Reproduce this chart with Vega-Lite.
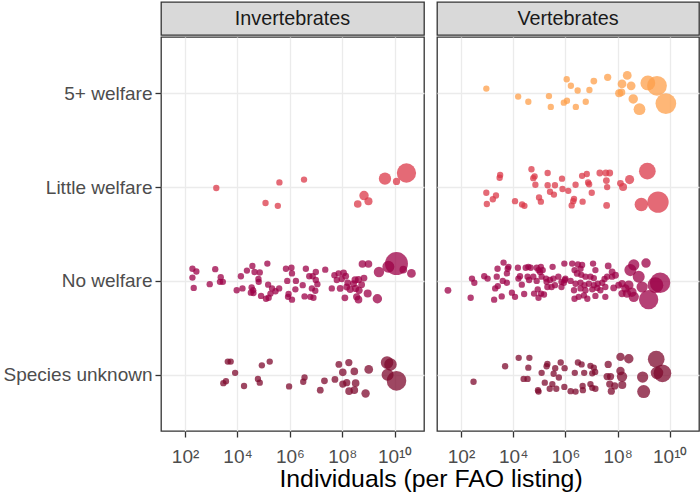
{
  "$schema": "https://vega.github.io/schema/vega-lite/v6.json",
  "padding": {"left": 2, "top": 1, "right": 2, "bottom": 0},
  "background": "white",
  "title": {"text": "Individuals (per FAO listing)", "orient": "bottom", "anchor": "middle", "fontSize": 24.8, "fontWeight": "normal", "color": "#000000", "font": "Liberation Sans", "dx": 80, "offset": 0},
  "data": {"values": [
    {"taxon":"Invertebrates","welfare":"Little welfare","log10n":3.19,"j":-0.01,"w":1},
    {"taxon":"Invertebrates","welfare":"Little welfare","log10n":5.60,"j":0.05,"w":1},
    {"taxon":"Invertebrates","welfare":"Little welfare","log10n":6.54,"j":0.08,"w":1},
    {"taxon":"Invertebrates","welfare":"Little welfare","log10n":5.07,"j":-0.17,"w":1},
    {"taxon":"Invertebrates","welfare":"Little welfare","log10n":5.54,"j":-0.20,"w":1},
    {"taxon":"Invertebrates","welfare":"Little welfare","log10n":9.63,"j":0.09,"w":19},
    {"taxon":"Invertebrates","welfare":"Little welfare","log10n":10.07,"j":0.06,"w":3},
    {"taxon":"Invertebrates","welfare":"Little welfare","log10n":10.45,"j":0.15,"w":55},
    {"taxon":"Invertebrates","welfare":"Little welfare","log10n":8.83,"j":-0.09,"w":9},
    {"taxon":"Invertebrates","welfare":"Little welfare","log10n":8.59,"j":-0.18,"w":4},
    {"taxon":"Invertebrates","welfare":"Little welfare","log10n":9.00,"j":-0.15,"w":5},

    {"taxon":"Invertebrates","welfare":"No welfare","log10n":2.28,"j":0.13,"w":1},
    {"taxon":"Invertebrates","welfare":"No welfare","log10n":2.43,"j":0.10,"w":1},
    {"taxon":"Invertebrates","welfare":"No welfare","log10n":2.28,"j":0.035,"w":1},
    {"taxon":"Invertebrates","welfare":"No welfare","log10n":2.33,"j":-0.075,"w":1},
    {"taxon":"Invertebrates","welfare":"No welfare","log10n":2.94,"j":-0.035,"w":1},
    {"taxon":"Invertebrates","welfare":"No welfare","log10n":3.15,"j":0.125,"w":1},
    {"taxon":"Invertebrates","welfare":"No welfare","log10n":3.36,"j":0.04,"w":1},
    {"taxon":"Invertebrates","welfare":"No welfare","log10n":3.33,"j":-0.01,"w":1},
    {"taxon":"Invertebrates","welfare":"No welfare","log10n":3.44,"j":-0.01,"w":1},
    {"taxon":"Invertebrates","welfare":"No welfare","log10n":3.97,"j":-0.10,"w":1},
    {"taxon":"Invertebrates","welfare":"No welfare","log10n":4.19,"j":-0.08,"w":1},
    {"taxon":"Invertebrates","welfare":"No welfare","log10n":4.13,"j":0.05,"w":1},
    {"taxon":"Invertebrates","welfare":"No welfare","log10n":4.36,"j":0.11,"w":1},
    {"taxon":"Invertebrates","welfare":"No welfare","log10n":4.57,"j":0.16,"w":1},
    {"taxon":"Invertebrates","welfare":"No welfare","log10n":4.65,"j":0.095,"w":1},
    {"taxon":"Invertebrates","welfare":"No welfare","log10n":4.85,"j":0.09,"w":1},
    {"taxon":"Invertebrates","welfare":"No welfare","log10n":5.14,"j":0.185,"w":1},
    {"taxon":"Invertebrates","welfare":"No welfare","log10n":4.80,"j":0.02,"w":1},
    {"taxon":"Invertebrates","welfare":"No welfare","log10n":4.81,"j":-0.01,"w":1},
    {"taxon":"Invertebrates","welfare":"No welfare","log10n":4.54,"j":-0.07,"w":1},
    {"taxon":"Invertebrates","welfare":"No welfare","log10n":4.60,"j":-0.10,"w":1},
    {"taxon":"Invertebrates","welfare":"No welfare","log10n":4.51,"j":-0.125,"w":1},
    {"taxon":"Invertebrates","welfare":"No welfare","log10n":4.61,"j":-0.13,"w":1},
    {"taxon":"Invertebrates","welfare":"No welfare","log10n":4.90,"j":-0.16,"w":1},
    {"taxon":"Invertebrates","welfare":"No welfare","log10n":5.09,"j":-0.19,"w":1},
    {"taxon":"Invertebrates","welfare":"No welfare","log10n":5.19,"j":-0.18,"w":1},
    {"taxon":"Invertebrates","welfare":"No welfare","log10n":5.17,"j":-0.04,"w":1},
    {"taxon":"Invertebrates","welfare":"No welfare","log10n":5.32,"j":-0.08,"w":1},
    {"taxon":"Invertebrates","welfare":"No welfare","log10n":5.26,"j":-0.135,"w":1},
    {"taxon":"Invertebrates","welfare":"No welfare","log10n":5.45,"j":-0.11,"w":1},
    {"taxon":"Invertebrates","welfare":"No welfare","log10n":5.59,"j":-0.08,"w":1},
    {"taxon":"Invertebrates","welfare":"No welfare","log10n":5.85,"j":0.13,"w":1},
    {"taxon":"Invertebrates","welfare":"No welfare","log10n":6.06,"j":0.14,"w":1},
    {"taxon":"Invertebrates","welfare":"No welfare","log10n":5.90,"j":0.0,"w":1},
    {"taxon":"Invertebrates","welfare":"No welfare","log10n":5.93,"j":-0.17,"w":1},
    {"taxon":"Invertebrates","welfare":"No welfare","log10n":6.08,"j":-0.20,"w":1},
    {"taxon":"Invertebrates","welfare":"No welfare","log10n":6.08,"j":0.08,"w":1},
    {"taxon":"Invertebrates","welfare":"No welfare","log10n":5.95,"j":-0.14,"w":1},
    {"taxon":"Invertebrates","welfare":"No welfare","log10n":6.61,"j":0.13,"w":1},
    {"taxon":"Invertebrates","welfare":"No welfare","log10n":6.23,"j":0.0,"w":1},
    {"taxon":"Invertebrates","welfare":"No welfare","log10n":6.49,"j":-0.045,"w":1},
    {"taxon":"Invertebrates","welfare":"No welfare","log10n":6.74,"j":0.05,"w":1},
    {"taxon":"Invertebrates","welfare":"No welfare","log10n":6.87,"j":0.05,"w":1},
    {"taxon":"Invertebrates","welfare":"No welfare","log10n":6.99,"j":0.095,"w":1},
    {"taxon":"Invertebrates","welfare":"No welfare","log10n":6.99,"j":0.01,"w":1},
    {"taxon":"Invertebrates","welfare":"No welfare","log10n":7.05,"j":-0.035,"w":1},
    {"taxon":"Invertebrates","welfare":"No welfare","log10n":6.84,"j":-0.08,"w":1},
    {"taxon":"Invertebrates","welfare":"No welfare","log10n":6.97,"j":-0.105,"w":1},
    {"taxon":"Invertebrates","welfare":"No welfare","log10n":6.21,"j":-0.09,"w":1},
    {"taxon":"Invertebrates","welfare":"No welfare","log10n":6.56,"j":-0.165,"w":1},
    {"taxon":"Invertebrates","welfare":"No welfare","log10n":6.78,"j":-0.17,"w":1},
    {"taxon":"Invertebrates","welfare":"No welfare","log10n":6.90,"j":-0.18,"w":1},
    {"taxon":"Invertebrates","welfare":"No welfare","log10n":7.35,"j":0.12,"w":1},
    {"taxon":"Invertebrates","welfare":"No welfare","log10n":7.70,"j":0.06,"w":1},
    {"taxon":"Invertebrates","welfare":"No welfare","log10n":7.86,"j":0.08,"w":1},
    {"taxon":"Invertebrates","welfare":"No welfare","log10n":8.05,"j":0.085,"w":2},
    {"taxon":"Invertebrates","welfare":"No welfare","log10n":8.13,"j":0.05,"w":2},
    {"taxon":"Invertebrates","welfare":"No welfare","log10n":7.79,"j":0.01,"w":1},
    {"taxon":"Invertebrates","welfare":"No welfare","log10n":7.98,"j":0.02,"w":1},
    {"taxon":"Invertebrates","welfare":"No welfare","log10n":8.21,"j":-0.02,"w":2},
    {"taxon":"Invertebrates","welfare":"No welfare","log10n":8.49,"j":0.01,"w":3},
    {"taxon":"Invertebrates","welfare":"No welfare","log10n":8.62,"j":0.015,"w":3},
    {"taxon":"Invertebrates","welfare":"No welfare","log10n":8.83,"j":0.03,"w":2},
    {"taxon":"Invertebrates","welfare":"No welfare","log10n":7.60,"j":-0.08,"w":1},
    {"taxon":"Invertebrates","welfare":"No welfare","log10n":7.92,"j":-0.08,"w":2},
    {"taxon":"Invertebrates","welfare":"No welfare","log10n":8.17,"j":-0.065,"w":2},
    {"taxon":"Invertebrates","welfare":"No welfare","log10n":8.30,"j":-0.09,"w":3},
    {"taxon":"Invertebrates","welfare":"No welfare","log10n":8.51,"j":-0.08,"w":3},
    {"taxon":"Invertebrates","welfare":"No welfare","log10n":8.64,"j":-0.10,"w":3},
    {"taxon":"Invertebrates","welfare":"No welfare","log10n":8.43,"j":-0.03,"w":2},
    {"taxon":"Invertebrates","welfare":"No welfare","log10n":8.74,"j":-0.04,"w":2},
    {"taxon":"Invertebrates","welfare":"No welfare","log10n":8.10,"j":-0.18,"w":2},
    {"taxon":"Invertebrates","welfare":"No welfare","log10n":8.55,"j":-0.17,"w":3},
    {"taxon":"Invertebrates","welfare":"No welfare","log10n":8.62,"j":-0.20,"w":4},
    {"taxon":"Invertebrates","welfare":"No welfare","log10n":8.97,"j":-0.135,"w":5},
    {"taxon":"Invertebrates","welfare":"No welfare","log10n":9.34,"j":-0.19,"w":9},
    {"taxon":"Invertebrates","welfare":"No welfare","log10n":8.77,"j":0.18,"w":4},
    {"taxon":"Invertebrates","welfare":"No welfare","log10n":9.00,"j":0.18,"w":4},
    {"taxon":"Invertebrates","welfare":"No welfare","log10n":9.40,"j":0.095,"w":12},
    {"taxon":"Invertebrates","welfare":"No welfare","log10n":9.76,"j":0.15,"w":18},
    {"taxon":"Invertebrates","welfare":"No welfare","log10n":10.07,"j":0.185,"w":80},
    {"taxon":"Invertebrates","welfare":"No welfare","log10n":10.33,"j":0.12,"w":4},
    {"taxon":"Invertebrates","welfare":"No welfare","log10n":10.64,"j":0.08,"w":7},

    {"taxon":"Invertebrates","welfare":"Species unknown","log10n":3.63,"j":0.14,"w":1},
    {"taxon":"Invertebrates","welfare":"Species unknown","log10n":3.74,"j":0.14,"w":1},
    {"taxon":"Invertebrates","welfare":"Species unknown","log10n":3.91,"j":0.02,"w":1},
    {"taxon":"Invertebrates","welfare":"Species unknown","log10n":3.46,"j":-0.09,"w":1},
    {"taxon":"Invertebrates","welfare":"Species unknown","log10n":3.56,"j":-0.07,"w":1},
    {"taxon":"Invertebrates","welfare":"Species unknown","log10n":4.25,"j":-0.12,"w":1},
    {"taxon":"Invertebrates","welfare":"Species unknown","log10n":4.93,"j":0.10,"w":1},
    {"taxon":"Invertebrates","welfare":"Species unknown","log10n":5.23,"j":0.14,"w":1},
    {"taxon":"Invertebrates","welfare":"Species unknown","log10n":4.78,"j":-0.045,"w":1},
    {"taxon":"Invertebrates","welfare":"Species unknown","log10n":4.85,"j":-0.085,"w":1},
    {"taxon":"Invertebrates","welfare":"Species unknown","log10n":5.97,"j":-0.125,"w":1},
    {"taxon":"Invertebrates","welfare":"Species unknown","log10n":6.56,"j":-0.03,"w":1},
    {"taxon":"Invertebrates","welfare":"Species unknown","log10n":6.51,"j":-0.075,"w":1},
    {"taxon":"Invertebrates","welfare":"Species unknown","log10n":7.16,"j":-0.165,"w":2},
    {"taxon":"Invertebrates","welfare":"Species unknown","log10n":7.32,"j":-0.065,"w":2},
    {"taxon":"Invertebrates","welfare":"Species unknown","log10n":7.72,"j":-0.05,"w":2},
    {"taxon":"Invertebrates","welfare":"Species unknown","log10n":7.87,"j":0.11,"w":2},
    {"taxon":"Invertebrates","welfare":"Species unknown","log10n":8.25,"j":0.13,"w":3},
    {"taxon":"Invertebrates","welfare":"Species unknown","log10n":8.02,"j":0.025,"w":4},
    {"taxon":"Invertebrates","welfare":"Species unknown","log10n":8.46,"j":0.035,"w":4},
    {"taxon":"Invertebrates","welfare":"Species unknown","log10n":8.02,"j":-0.10,"w":3},
    {"taxon":"Invertebrates","welfare":"Species unknown","log10n":8.17,"j":-0.085,"w":3},
    {"taxon":"Invertebrates","welfare":"Species unknown","log10n":8.51,"j":-0.09,"w":4},
    {"taxon":"Invertebrates","welfare":"Species unknown","log10n":8.26,"j":-0.175,"w":4},
    {"taxon":"Invertebrates","welfare":"Species unknown","log10n":8.46,"j":-0.165,"w":4},
    {"taxon":"Invertebrates","welfare":"Species unknown","log10n":8.89,"j":-0.20,"w":6},
    {"taxon":"Invertebrates","welfare":"Species unknown","log10n":9.01,"j":0.056,"w":7},
    {"taxon":"Invertebrates","welfare":"Species unknown","log10n":9.71,"j":0.13,"w":20},
    {"taxon":"Invertebrates","welfare":"Species unknown","log10n":9.84,"j":0.11,"w":20},
    {"taxon":"Invertebrates","welfare":"Species unknown","log10n":9.73,"j":0.0,"w":18},
    {"taxon":"Invertebrates","welfare":"Species unknown","log10n":10.07,"j":-0.065,"w":57},

    {"taxon":"Vertebrates","welfare":"5+ welfare","log10n":2.97,"j":0.05,"w":1},
    {"taxon":"Vertebrates","welfare":"5+ welfare","log10n":4.19,"j":-0.035,"w":1},
    {"taxon":"Vertebrates","welfare":"5+ welfare","log10n":4.58,"j":-0.09,"w":1},
    {"taxon":"Vertebrates","welfare":"5+ welfare","log10n":5.37,"j":-0.03,"w":1},
    {"taxon":"Vertebrates","welfare":"5+ welfare","log10n":5.44,"j":-0.145,"w":1},
    {"taxon":"Vertebrates","welfare":"5+ welfare","log10n":6.05,"j":0.15,"w":1},
    {"taxon":"Vertebrates","welfare":"5+ welfare","log10n":6.21,"j":0.08,"w":1},
    {"taxon":"Vertebrates","welfare":"5+ welfare","log10n":6.47,"j":0.03,"w":1},
    {"taxon":"Vertebrates","welfare":"5+ welfare","log10n":6.06,"j":-0.08,"w":1},
    {"taxon":"Vertebrates","welfare":"5+ welfare","log10n":5.94,"j":-0.10,"w":1},
    {"taxon":"Vertebrates","welfare":"5+ welfare","log10n":6.40,"j":-0.145,"w":1},
    {"taxon":"Vertebrates","welfare":"5+ welfare","log10n":6.92,"j":0.035,"w":1},
    {"taxon":"Vertebrates","welfare":"5+ welfare","log10n":7.09,"j":0.13,"w":2},
    {"taxon":"Vertebrates","welfare":"5+ welfare","log10n":6.78,"j":-0.09,"w":1},
    {"taxon":"Vertebrates","welfare":"5+ welfare","log10n":7.62,"j":0.17,"w":3},
    {"taxon":"Vertebrates","welfare":"5+ welfare","log10n":8.37,"j":0.19,"w":7},
    {"taxon":"Vertebrates","welfare":"5+ welfare","log10n":8.17,"j":0.10,"w":7},
    {"taxon":"Vertebrates","welfare":"5+ welfare","log10n":8.52,"j":0.08,"w":7},
    {"taxon":"Vertebrates","welfare":"5+ welfare","log10n":8.06,"j":0.0,"w":5},
    {"taxon":"Vertebrates","welfare":"5+ welfare","log10n":8.15,"j":0.01,"w":4},
    {"taxon":"Vertebrates","welfare":"5+ welfare","log10n":8.60,"j":-0.06,"w":9},
    {"taxon":"Vertebrates","welfare":"5+ welfare","log10n":8.84,"j":-0.17,"w":17},
    {"taxon":"Vertebrates","welfare":"5+ welfare","log10n":9.16,"j":0.11,"w":30},
    {"taxon":"Vertebrates","welfare":"5+ welfare","log10n":9.51,"j":0.08,"w":58},
    {"taxon":"Vertebrates","welfare":"5+ welfare","log10n":9.85,"j":-0.11,"w":64},

    {"taxon":"Vertebrates","welfare":"Little welfare","log10n":3.50,"j":0.13,"w":1},
    {"taxon":"Vertebrates","welfare":"Little welfare","log10n":3.48,"j":0.10,"w":1},
    {"taxon":"Vertebrates","welfare":"Little welfare","log10n":2.97,"j":-0.06,"w":1},
    {"taxon":"Vertebrates","welfare":"Little welfare","log10n":3.34,"j":-0.09,"w":1},
    {"taxon":"Vertebrates","welfare":"Little welfare","log10n":3.22,"j":-0.13,"w":1},
    {"taxon":"Vertebrates","welfare":"Little welfare","log10n":2.99,"j":-0.18,"w":1},
    {"taxon":"Vertebrates","welfare":"Little welfare","log10n":4.07,"j":-0.15,"w":1},
    {"taxon":"Vertebrates","welfare":"Little welfare","log10n":4.34,"j":-0.185,"w":1},
    {"taxon":"Vertebrates","welfare":"Little welfare","log10n":4.43,"j":-0.20,"w":1},
    {"taxon":"Vertebrates","welfare":"Little welfare","log10n":4.70,"j":0.19,"w":1},
    {"taxon":"Vertebrates","welfare":"Little welfare","log10n":4.77,"j":0.095,"w":1},
    {"taxon":"Vertebrates","welfare":"Little welfare","log10n":4.82,"j":0.115,"w":1},
    {"taxon":"Vertebrates","welfare":"Little welfare","log10n":4.85,"j":0.025,"w":1},
    {"taxon":"Vertebrates","welfare":"Little welfare","log10n":5.32,"j":0.15,"w":1},
    {"taxon":"Vertebrates","welfare":"Little welfare","log10n":5.32,"j":0.02,"w":1},
    {"taxon":"Vertebrates","welfare":"Little welfare","log10n":5.60,"j":0.02,"w":1},
    {"taxon":"Vertebrates","welfare":"Little welfare","log10n":5.87,"j":0.09,"w":1},
    {"taxon":"Vertebrates","welfare":"Little welfare","log10n":5.89,"j":-0.02,"w":1},
    {"taxon":"Vertebrates","welfare":"Little welfare","log10n":6.11,"j":-0.04,"w":1},
    {"taxon":"Vertebrates","welfare":"Little welfare","log10n":5.41,"j":-0.05,"w":1},
    {"taxon":"Vertebrates","welfare":"Little welfare","log10n":5.56,"j":-0.08,"w":1},
    {"taxon":"Vertebrates","welfare":"Little welfare","log10n":4.99,"j":-0.11,"w":1},
    {"taxon":"Vertebrates","welfare":"Little welfare","log10n":5.06,"j":-0.155,"w":1},
    {"taxon":"Vertebrates","welfare":"Little welfare","log10n":6.39,"j":0.025,"w":1},
    {"taxon":"Vertebrates","welfare":"Little welfare","log10n":6.64,"j":0.12,"w":1},
    {"taxon":"Vertebrates","welfare":"Little welfare","log10n":6.82,"j":0.14,"w":1},
    {"taxon":"Vertebrates","welfare":"Little welfare","log10n":6.87,"j":0.05,"w":1},
    {"taxon":"Vertebrates","welfare":"Little welfare","log10n":6.91,"j":0.03,"w":1},
    {"taxon":"Vertebrates","welfare":"Little welfare","log10n":7.01,"j":-0.06,"w":1},
    {"taxon":"Vertebrates","welfare":"Little welfare","log10n":6.33,"j":-0.125,"w":1},
    {"taxon":"Vertebrates","welfare":"Little welfare","log10n":6.30,"j":-0.15,"w":1},
    {"taxon":"Vertebrates","welfare":"Little welfare","log10n":6.24,"j":-0.195,"w":1},
    {"taxon":"Vertebrates","welfare":"Little welfare","log10n":6.66,"j":-0.155,"w":1},
    {"taxon":"Vertebrates","welfare":"Little welfare","log10n":7.32,"j":0.15,"w":2},
    {"taxon":"Vertebrates","welfare":"Little welfare","log10n":7.55,"j":0.15,"w":2},
    {"taxon":"Vertebrates","welfare":"Little welfare","log10n":7.70,"j":0.15,"w":2},
    {"taxon":"Vertebrates","welfare":"Little welfare","log10n":7.57,"j":0.07,"w":2},
    {"taxon":"Vertebrates","welfare":"Little welfare","log10n":7.60,"j":0.0,"w":1},
    {"taxon":"Vertebrates","welfare":"Little welfare","log10n":7.58,"j":-0.195,"w":2},
    {"taxon":"Vertebrates","welfare":"Little welfare","log10n":8.11,"j":0.04,"w":2},
    {"taxon":"Vertebrates","welfare":"Little welfare","log10n":8.21,"j":0.0,"w":5},
    {"taxon":"Vertebrates","welfare":"Little welfare","log10n":8.46,"j":0.08,"w":8},
    {"taxon":"Vertebrates","welfare":"Little welfare","log10n":9.14,"j":0.17,"w":40},
    {"taxon":"Vertebrates","welfare":"Little welfare","log10n":8.91,"j":-0.185,"w":24},
    {"taxon":"Vertebrates","welfare":"Little welfare","log10n":9.55,"j":-0.16,"w":68},

    {"taxon":"Vertebrates","welfare":"No welfare","log10n":1.50,"j":-0.10,"w":2},
    {"taxon":"Vertebrates","welfare":"No welfare","log10n":2.37,"j":-0.18,"w":1},
    {"taxon":"Vertebrates","welfare":"No welfare","log10n":2.42,"j":0.025,"w":1},
    {"taxon":"Vertebrates","welfare":"No welfare","log10n":2.51,"j":-0.02,"w":1},
    {"taxon":"Vertebrates","welfare":"No welfare","log10n":2.89,"j":0.05,"w":1},
    {"taxon":"Vertebrates","welfare":"No welfare","log10n":3.02,"j":0.025,"w":1},
    {"taxon":"Vertebrates","welfare":"No welfare","log10n":3.27,"j":-0.20,"w":1},
    {"taxon":"Vertebrates","welfare":"No welfare","log10n":3.31,"j":-0.08,"w":1},
    {"taxon":"Vertebrates","welfare":"No welfare","log10n":3.41,"j":-0.055,"w":1},
    {"taxon":"Vertebrates","welfare":"No welfare","log10n":3.56,"j":-0.165,"w":1},
    {"taxon":"Vertebrates","welfare":"No welfare","log10n":3.37,"j":0.045,"w":1},
    {"taxon":"Vertebrates","welfare":"No welfare","log10n":3.40,"j":0.13,"w":1},
    {"taxon":"Vertebrates","welfare":"No welfare","log10n":3.63,"j":0.195,"w":1},
    {"taxon":"Vertebrates","welfare":"No welfare","log10n":3.76,"j":0.08,"w":1},
    {"taxon":"Vertebrates","welfare":"No welfare","log10n":3.79,"j":0.13,"w":1},
    {"taxon":"Vertebrates","welfare":"No welfare","log10n":3.82,"j":0.15,"w":1},
    {"taxon":"Vertebrates","welfare":"No welfare","log10n":3.60,"j":0.0,"w":1},
    {"taxon":"Vertebrates","welfare":"No welfare","log10n":3.76,"j":-0.02,"w":1},
    {"taxon":"Vertebrates","welfare":"No welfare","log10n":3.95,"j":-0.125,"w":1},
    {"taxon":"Vertebrates","welfare":"No welfare","log10n":4.07,"j":-0.17,"w":1},
    {"taxon":"Vertebrates","welfare":"No welfare","log10n":4.18,"j":0.14,"w":1},
    {"taxon":"Vertebrates","welfare":"No welfare","log10n":4.20,"j":0.025,"w":1},
    {"taxon":"Vertebrates","welfare":"No welfare","log10n":4.26,"j":0.05,"w":1},
    {"taxon":"Vertebrates","welfare":"No welfare","log10n":4.33,"j":-0.04,"w":1},
    {"taxon":"Vertebrates","welfare":"No welfare","log10n":4.42,"j":-0.14,"w":1},
    {"taxon":"Vertebrates","welfare":"No welfare","log10n":4.48,"j":0.14,"w":1},
    {"taxon":"Vertebrates","welfare":"No welfare","log10n":4.58,"j":0.15,"w":1},
    {"taxon":"Vertebrates","welfare":"No welfare","log10n":4.55,"j":0.045,"w":1},
    {"taxon":"Vertebrates","welfare":"No welfare","log10n":4.61,"j":0.01,"w":1},
    {"taxon":"Vertebrates","welfare":"No welfare","log10n":4.77,"j":0.045,"w":1},
    {"taxon":"Vertebrates","welfare":"No welfare","log10n":4.67,"j":0.14,"w":1},
    {"taxon":"Vertebrates","welfare":"No welfare","log10n":4.90,"j":0.14,"w":1},
    {"taxon":"Vertebrates","welfare":"No welfare","log10n":4.97,"j":0.115,"w":1},
    {"taxon":"Vertebrates","welfare":"No welfare","log10n":5.06,"j":0.15,"w":1},
    {"taxon":"Vertebrates","welfare":"No welfare","log10n":5.13,"j":0.115,"w":1},
    {"taxon":"Vertebrates","welfare":"No welfare","log10n":5.03,"j":0.095,"w":1},
    {"taxon":"Vertebrates","welfare":"No welfare","log10n":4.90,"j":0.0,"w":1},
    {"taxon":"Vertebrates","welfare":"No welfare","log10n":5.09,"j":0.045,"w":1},
    {"taxon":"Vertebrates","welfare":"No welfare","log10n":5.26,"j":0.025,"w":1},
    {"taxon":"Vertebrates","welfare":"No welfare","log10n":5.28,"j":-0.01,"w":1},
    {"taxon":"Vertebrates","welfare":"No welfare","log10n":5.41,"j":0.01,"w":1},
    {"taxon":"Vertebrates","welfare":"No welfare","log10n":5.54,"j":0.025,"w":1},
    {"taxon":"Vertebrates","welfare":"No welfare","log10n":5.51,"j":0.15,"w":1},
    {"taxon":"Vertebrates","welfare":"No welfare","log10n":4.94,"j":-0.09,"w":1},
    {"taxon":"Vertebrates","welfare":"No welfare","log10n":4.80,"j":-0.135,"w":1},
    {"taxon":"Vertebrates","welfare":"No welfare","log10n":5.07,"j":-0.135,"w":1},
    {"taxon":"Vertebrates","welfare":"No welfare","log10n":5.18,"j":-0.145,"w":1},
    {"taxon":"Vertebrates","welfare":"No welfare","log10n":4.97,"j":-0.18,"w":1},
    {"taxon":"Vertebrates","welfare":"No welfare","log10n":5.31,"j":-0.065,"w":1},
    {"taxon":"Vertebrates","welfare":"No welfare","log10n":5.47,"j":-0.065,"w":1},
    {"taxon":"Vertebrates","welfare":"No welfare","log10n":5.60,"j":-0.045,"w":1},
    {"taxon":"Vertebrates","welfare":"No welfare","log10n":5.73,"j":0.045,"w":1},
    {"taxon":"Vertebrates","welfare":"No welfare","log10n":5.85,"j":-0.01,"w":1},
    {"taxon":"Vertebrates","welfare":"No welfare","log10n":5.96,"j":0.185,"w":1},
    {"taxon":"Vertebrates","welfare":"No welfare","log10n":5.85,"j":-0.065,"w":1},
    {"taxon":"Vertebrates","welfare":"No welfare","log10n":5.98,"j":0.01,"w":1},
    {"taxon":"Vertebrates","welfare":"No welfare","log10n":6.26,"j":0.185,"w":1},
    {"taxon":"Vertebrates","welfare":"No welfare","log10n":6.48,"j":0.175,"w":1},
    {"taxon":"Vertebrates","welfare":"No welfare","log10n":6.58,"j":0.13,"w":1},
    {"taxon":"Vertebrates","welfare":"No welfare","log10n":6.64,"j":0.17,"w":1},
    {"taxon":"Vertebrates","welfare":"No welfare","log10n":6.35,"j":0.115,"w":1},
    {"taxon":"Vertebrates","welfare":"No welfare","log10n":6.45,"j":0.08,"w":2},
    {"taxon":"Vertebrates","welfare":"No welfare","log10n":6.61,"j":0.065,"w":1},
    {"taxon":"Vertebrates","welfare":"No welfare","log10n":6.77,"j":0.045,"w":1},
    {"taxon":"Vertebrates","welfare":"No welfare","log10n":7.06,"j":0.185,"w":1},
    {"taxon":"Vertebrates","welfare":"No welfare","log10n":7.15,"j":0.115,"w":1},
    {"taxon":"Vertebrates","welfare":"No welfare","log10n":6.96,"j":0.045,"w":1},
    {"taxon":"Vertebrates","welfare":"No welfare","log10n":7.09,"j":0.03,"w":1},
    {"taxon":"Vertebrates","welfare":"No welfare","log10n":6.00,"j":0.025,"w":1},
    {"taxon":"Vertebrates","welfare":"No welfare","log10n":5.94,"j":-0.02,"w":1},
    {"taxon":"Vertebrates","welfare":"No welfare","log10n":6.20,"j":0.0,"w":1},
    {"taxon":"Vertebrates","welfare":"No welfare","log10n":6.39,"j":-0.03,"w":1},
    {"taxon":"Vertebrates","welfare":"No welfare","log10n":6.58,"j":-0.02,"w":1},
    {"taxon":"Vertebrates","welfare":"No welfare","log10n":6.73,"j":-0.045,"w":1},
    {"taxon":"Vertebrates","welfare":"No welfare","log10n":6.90,"j":-0.03,"w":1},
    {"taxon":"Vertebrates","welfare":"No welfare","log10n":7.09,"j":-0.045,"w":1},
    {"taxon":"Vertebrates","welfare":"No welfare","log10n":7.24,"j":-0.03,"w":1},
    {"taxon":"Vertebrates","welfare":"No welfare","log10n":7.41,"j":-0.02,"w":1},
    {"taxon":"Vertebrates","welfare":"No welfare","log10n":7.50,"j":0.02,"w":1},
    {"taxon":"Vertebrates","welfare":"No welfare","log10n":7.64,"j":0.16,"w":2},
    {"taxon":"Vertebrates","welfare":"No welfare","log10n":7.79,"j":0.095,"w":2},
    {"taxon":"Vertebrates","welfare":"No welfare","log10n":7.92,"j":0.06,"w":2},
    {"taxon":"Vertebrates","welfare":"No welfare","log10n":7.79,"j":0.045,"w":1},
    {"taxon":"Vertebrates","welfare":"No welfare","log10n":7.60,"j":0.045,"w":1},
    {"taxon":"Vertebrates","welfare":"No welfare","log10n":6.33,"j":-0.10,"w":1},
    {"taxon":"Vertebrates","welfare":"No welfare","log10n":6.58,"j":-0.08,"w":1},
    {"taxon":"Vertebrates","welfare":"No welfare","log10n":6.77,"j":-0.10,"w":1},
    {"taxon":"Vertebrates","welfare":"No welfare","log10n":7.03,"j":-0.09,"w":1},
    {"taxon":"Vertebrates","welfare":"No welfare","log10n":7.22,"j":-0.075,"w":1},
    {"taxon":"Vertebrates","welfare":"No welfare","log10n":7.34,"j":-0.10,"w":1},
    {"taxon":"Vertebrates","welfare":"No welfare","log10n":7.53,"j":-0.065,"w":1},
    {"taxon":"Vertebrates","welfare":"No welfare","log10n":6.35,"j":-0.19,"w":1},
    {"taxon":"Vertebrates","welfare":"No welfare","log10n":6.51,"j":-0.17,"w":1},
    {"taxon":"Vertebrates","welfare":"No welfare","log10n":6.71,"j":-0.155,"w":1},
    {"taxon":"Vertebrates","welfare":"No welfare","log10n":6.84,"j":-0.19,"w":1},
    {"taxon":"Vertebrates","welfare":"No welfare","log10n":7.15,"j":-0.16,"w":1},
    {"taxon":"Vertebrates","welfare":"No welfare","log10n":7.53,"j":-0.17,"w":1},
    {"taxon":"Vertebrates","welfare":"No welfare","log10n":7.85,"j":-0.075,"w":2},
    {"taxon":"Vertebrates","welfare":"No welfare","log10n":8.04,"j":-0.045,"w":2},
    {"taxon":"Vertebrates","welfare":"No welfare","log10n":8.17,"j":-0.03,"w":3},
    {"taxon":"Vertebrates","welfare":"No welfare","log10n":8.30,"j":-0.08,"w":6},
    {"taxon":"Vertebrates","welfare":"No welfare","log10n":8.43,"j":-0.045,"w":9},
    {"taxon":"Vertebrates","welfare":"No welfare","log10n":8.55,"j":-0.12,"w":9},
    {"taxon":"Vertebrates","welfare":"No welfare","log10n":8.36,"j":-0.135,"w":6},
    {"taxon":"Vertebrates","welfare":"No welfare","log10n":8.62,"j":-0.17,"w":12},
    {"taxon":"Vertebrates","welfare":"No welfare","log10n":8.17,"j":-0.135,"w":3},
    {"taxon":"Vertebrates","welfare":"No welfare","log10n":8.49,"j":0.115,"w":18},
    {"taxon":"Vertebrates","welfare":"No welfare","log10n":8.62,"j":0.17,"w":15},
    {"taxon":"Vertebrates","welfare":"No welfare","log10n":8.81,"j":0.045,"w":18},
    {"taxon":"Vertebrates","welfare":"No welfare","log10n":9.09,"j":0.19,"w":9},
    {"taxon":"Vertebrates","welfare":"No welfare","log10n":8.94,"j":-0.065,"w":15},
    {"taxon":"Vertebrates","welfare":"No welfare","log10n":9.19,"j":-0.20,"w":55},
    {"taxon":"Vertebrates","welfare":"No welfare","log10n":9.45,"j":-0.045,"w":35},
    {"taxon":"Vertebrates","welfare":"No welfare","log10n":9.63,"j":-0.02,"w":62},

    {"taxon":"Vertebrates","welfare":"Species unknown","log10n":2.48,"j":-0.075,"w":1},
    {"taxon":"Vertebrates","welfare":"Species unknown","log10n":3.69,"j":0.09,"w":1},
    {"taxon":"Vertebrates","welfare":"Species unknown","log10n":4.21,"j":0.18,"w":1},
    {"taxon":"Vertebrates","welfare":"Species unknown","log10n":4.62,"j":0.18,"w":1},
    {"taxon":"Vertebrates","welfare":"Species unknown","log10n":4.58,"j":0.075,"w":1},
    {"taxon":"Vertebrates","welfare":"Species unknown","log10n":4.40,"j":-0.045,"w":1},
    {"taxon":"Vertebrates","welfare":"Species unknown","log10n":4.55,"j":-0.045,"w":1},
    {"taxon":"Vertebrates","welfare":"Species unknown","log10n":4.95,"j":-0.165,"w":1},
    {"taxon":"Vertebrates","welfare":"Species unknown","log10n":4.97,"j":-0.18,"w":1},
    {"taxon":"Vertebrates","welfare":"Species unknown","log10n":5.21,"j":-0.085,"w":1},
    {"taxon":"Vertebrates","welfare":"Species unknown","log10n":5.09,"j":0.02,"w":1},
    {"taxon":"Vertebrates","welfare":"Species unknown","log10n":5.28,"j":0.09,"w":1},
    {"taxon":"Vertebrates","welfare":"Species unknown","log10n":5.31,"j":0.115,"w":1},
    {"taxon":"Vertebrates","welfare":"Species unknown","log10n":5.40,"j":-0.15,"w":1},
    {"taxon":"Vertebrates","welfare":"Species unknown","log10n":5.50,"j":-0.10,"w":1},
    {"taxon":"Vertebrates","welfare":"Species unknown","log10n":5.55,"j":0.01,"w":1},
    {"taxon":"Vertebrates","welfare":"Species unknown","log10n":5.65,"j":-0.15,"w":1},
    {"taxon":"Vertebrates","welfare":"Species unknown","log10n":5.61,"j":0.07,"w":1},
    {"taxon":"Vertebrates","welfare":"Species unknown","log10n":5.75,"j":-0.03,"w":1},
    {"taxon":"Vertebrates","welfare":"Species unknown","log10n":5.82,"j":0.13,"w":1},
    {"taxon":"Vertebrates","welfare":"Species unknown","log10n":5.97,"j":0.07,"w":1},
    {"taxon":"Vertebrates","welfare":"Species unknown","log10n":5.96,"j":-0.13,"w":1},
    {"taxon":"Vertebrates","welfare":"Species unknown","log10n":6.20,"j":-0.175,"w":1},
    {"taxon":"Vertebrates","welfare":"Species unknown","log10n":6.39,"j":-0.18,"w":1},
    {"taxon":"Vertebrates","welfare":"Species unknown","log10n":6.36,"j":0.02,"w":1},
    {"taxon":"Vertebrates","welfare":"Species unknown","log10n":6.48,"j":0.13,"w":1},
    {"taxon":"Vertebrates","welfare":"Species unknown","log10n":6.62,"j":0.11,"w":1},
    {"taxon":"Vertebrates","welfare":"Species unknown","log10n":6.72,"j":0.02,"w":1},
    {"taxon":"Vertebrates","welfare":"Species unknown","log10n":6.66,"j":-0.12,"w":1},
    {"taxon":"Vertebrates","welfare":"Species unknown","log10n":6.67,"j":-0.165,"w":1},
    {"taxon":"Vertebrates","welfare":"Species unknown","log10n":6.96,"j":0.095,"w":1},
    {"taxon":"Vertebrates","welfare":"Species unknown","log10n":7.09,"j":0.075,"w":1},
    {"taxon":"Vertebrates","welfare":"Species unknown","log10n":7.03,"j":0.015,"w":1},
    {"taxon":"Vertebrates","welfare":"Species unknown","log10n":7.14,"j":0.03,"w":1},
    {"taxon":"Vertebrates","welfare":"Species unknown","log10n":6.96,"j":-0.10,"w":1},
    {"taxon":"Vertebrates","welfare":"Species unknown","log10n":7.03,"j":-0.14,"w":1},
    {"taxon":"Vertebrates","welfare":"Species unknown","log10n":7.15,"j":-0.15,"w":1},
    {"taxon":"Vertebrates","welfare":"Species unknown","log10n":7.64,"j":0.11,"w":3},
    {"taxon":"Vertebrates","welfare":"Species unknown","log10n":7.60,"j":-0.02,"w":3},
    {"taxon":"Vertebrates","welfare":"Species unknown","log10n":7.73,"j":-0.02,"w":3},
    {"taxon":"Vertebrates","welfare":"Species unknown","log10n":7.70,"j":-0.10,"w":3},
    {"taxon":"Vertebrates","welfare":"Species unknown","log10n":7.76,"j":-0.175,"w":3},
    {"taxon":"Vertebrates","welfare":"Species unknown","log10n":7.89,"j":-0.12,"w":3},
    {"taxon":"Vertebrates","welfare":"Species unknown","log10n":8.11,"j":0.19,"w":6},
    {"taxon":"Vertebrates","welfare":"Species unknown","log10n":8.43,"j":0.17,"w":9},
    {"taxon":"Vertebrates","welfare":"Species unknown","log10n":8.11,"j":0.04,"w":6},
    {"taxon":"Vertebrates","welfare":"Species unknown","log10n":8.17,"j":-0.02,"w":12},
    {"taxon":"Vertebrates","welfare":"Species unknown","log10n":8.18,"j":-0.11,"w":5},
    {"taxon":"Vertebrates","welfare":"Species unknown","log10n":8.96,"j":-0.025,"w":15},
    {"taxon":"Vertebrates","welfare":"Species unknown","log10n":9.00,"j":-0.18,"w":22},
    {"taxon":"Vertebrates","welfare":"Species unknown","log10n":9.48,"j":0.165,"w":40},
    {"taxon":"Vertebrates","welfare":"Species unknown","log10n":9.51,"j":0.02,"w":20},
    {"taxon":"Vertebrates","welfare":"Species unknown","log10n":9.72,"j":0.015,"w":45}
  ]},
  "spacing": 11,
  "hconcat": [
    {
      "spacing": 0,
      "vconcat": [
        {
          "width": 263, "height": 33,
          "data": {"values": [{"taxon": "Invertebrates"}]},
          "view": {"fill": "#D9D9D9", "stroke": "#333333", "strokeWidth": 1.3},
          "mark": {"type": "text", "fontSize": 19.8, "color": "#1A1A1A", "baseline": "middle", "align": "center"},
          "encoding": {"text": {"field": "taxon", "type": "nominal"}}
        },
        {
          "width": 263, "height": 394,
          "transform": [{"filter": "datum.taxon === 'Invertebrates'"}],
          "mark": {"type": "circle", "opacity": 0.75},
          "encoding": {
            "x": {"field": "log10n", "type": "quantitative",
                  "scale": {"domain": [1.08, 11.12], "nice": false, "zero": false},
                  "axis": {"values": [2, 4, 6, 8, 10], "grid": true, "title": null,
                           "labelExpr": "datum.value == 2 ? '10²' : datum.value == 4 ? '10⁴' : datum.value == 6 ? '10⁶' : datum.value == 8 ? '10⁸' : '10¹⁰'"}},
            "y": {"field": "welfare", "type": "nominal",
                  "scale": {"type": "point", "domain": ["5+ welfare", "Little welfare", "No welfare", "Species unknown"], "padding": 0.6},
                  "axis": {"title": null, "grid": true, "labelPadding": 3}},
            "yOffset": {"field": "j", "type": "quantitative", "scale": {"domain": [-0.5, 0.5], "range": [46.9, -46.9]}},
            "size": {"field": "w", "type": "quantitative", "scale": {"domain": [0, 100], "range": [34, 650], "zero": false}, "legend": null},
            "color": {"field": "welfare", "type": "nominal",
                      "scale": {"domain": ["5+ welfare", "Little welfare", "No welfare", "Species unknown"], "range": ["#FD9F4A", "#DB3848", "#9C0047", "#7E0A2E"]},
                      "legend": null}
          }
        }
      ]
    },
    {
      "spacing": 0,
      "vconcat": [
        {
          "width": 262, "height": 33,
          "data": {"values": [{"taxon": "Vertebrates"}]},
          "view": {"fill": "#D9D9D9", "stroke": "#333333", "strokeWidth": 1.3},
          "mark": {"type": "text", "fontSize": 19.8, "color": "#1A1A1A", "baseline": "middle", "align": "center"},
          "encoding": {"text": {"field": "taxon", "type": "nominal"}}
        },
        {
          "width": 262, "height": 394,
          "transform": [{"filter": "datum.taxon === 'Vertebrates'"}],
          "mark": {"type": "circle", "opacity": 0.75},
          "encoding": {
            "x": {"field": "log10n", "type": "quantitative",
                  "scale": {"domain": [1.08, 11.12], "nice": false, "zero": false},
                  "axis": {"values": [2, 4, 6, 8, 10], "grid": true, "title": null,
                           "labelExpr": "datum.value == 2 ? '10²' : datum.value == 4 ? '10⁴' : datum.value == 6 ? '10⁶' : datum.value == 8 ? '10⁸' : '10¹⁰'"}},
            "y": {"field": "welfare", "type": "nominal",
                  "scale": {"type": "point", "domain": ["5+ welfare", "Little welfare", "No welfare", "Species unknown"], "padding": 0.6},
                  "axis": {"title": null, "grid": true, "labels": false, "ticks": false, "minExtent": 0, "maxExtent": 0}},
            "yOffset": {"field": "j", "type": "quantitative", "scale": {"domain": [-0.5, 0.5], "range": [46.9, -46.9]}},
            "size": {"field": "w", "type": "quantitative", "scale": {"domain": [0, 100], "range": [34, 650], "zero": false}, "legend": null},
            "color": {"field": "welfare", "type": "nominal",
                      "scale": {"domain": ["5+ welfare", "Little welfare", "No welfare", "Species unknown"], "range": ["#FD9F4A", "#DB3848", "#9C0047", "#7E0A2E"]},
                      "legend": null}
          }
        }
      ]
    }
  ],
  "config": {
    "font": "Liberation Sans",
    "view": {"stroke": "#333333", "strokeWidth": 1.3},
    "axis": {"domain": false, "gridColor": "#EBEBEB", "gridWidth": 1.3, "tickColor": "#333333", "tickWidth": 1.3, "tickSize": 6,
             "labelColor": "#4D4D4D", "labelFontSize": 19, "labelFont": "Liberation Sans", "titleFont": "Liberation Sans"},
    "axisX": {"labelPadding": 10, "labelFlush": false}
  }
}
